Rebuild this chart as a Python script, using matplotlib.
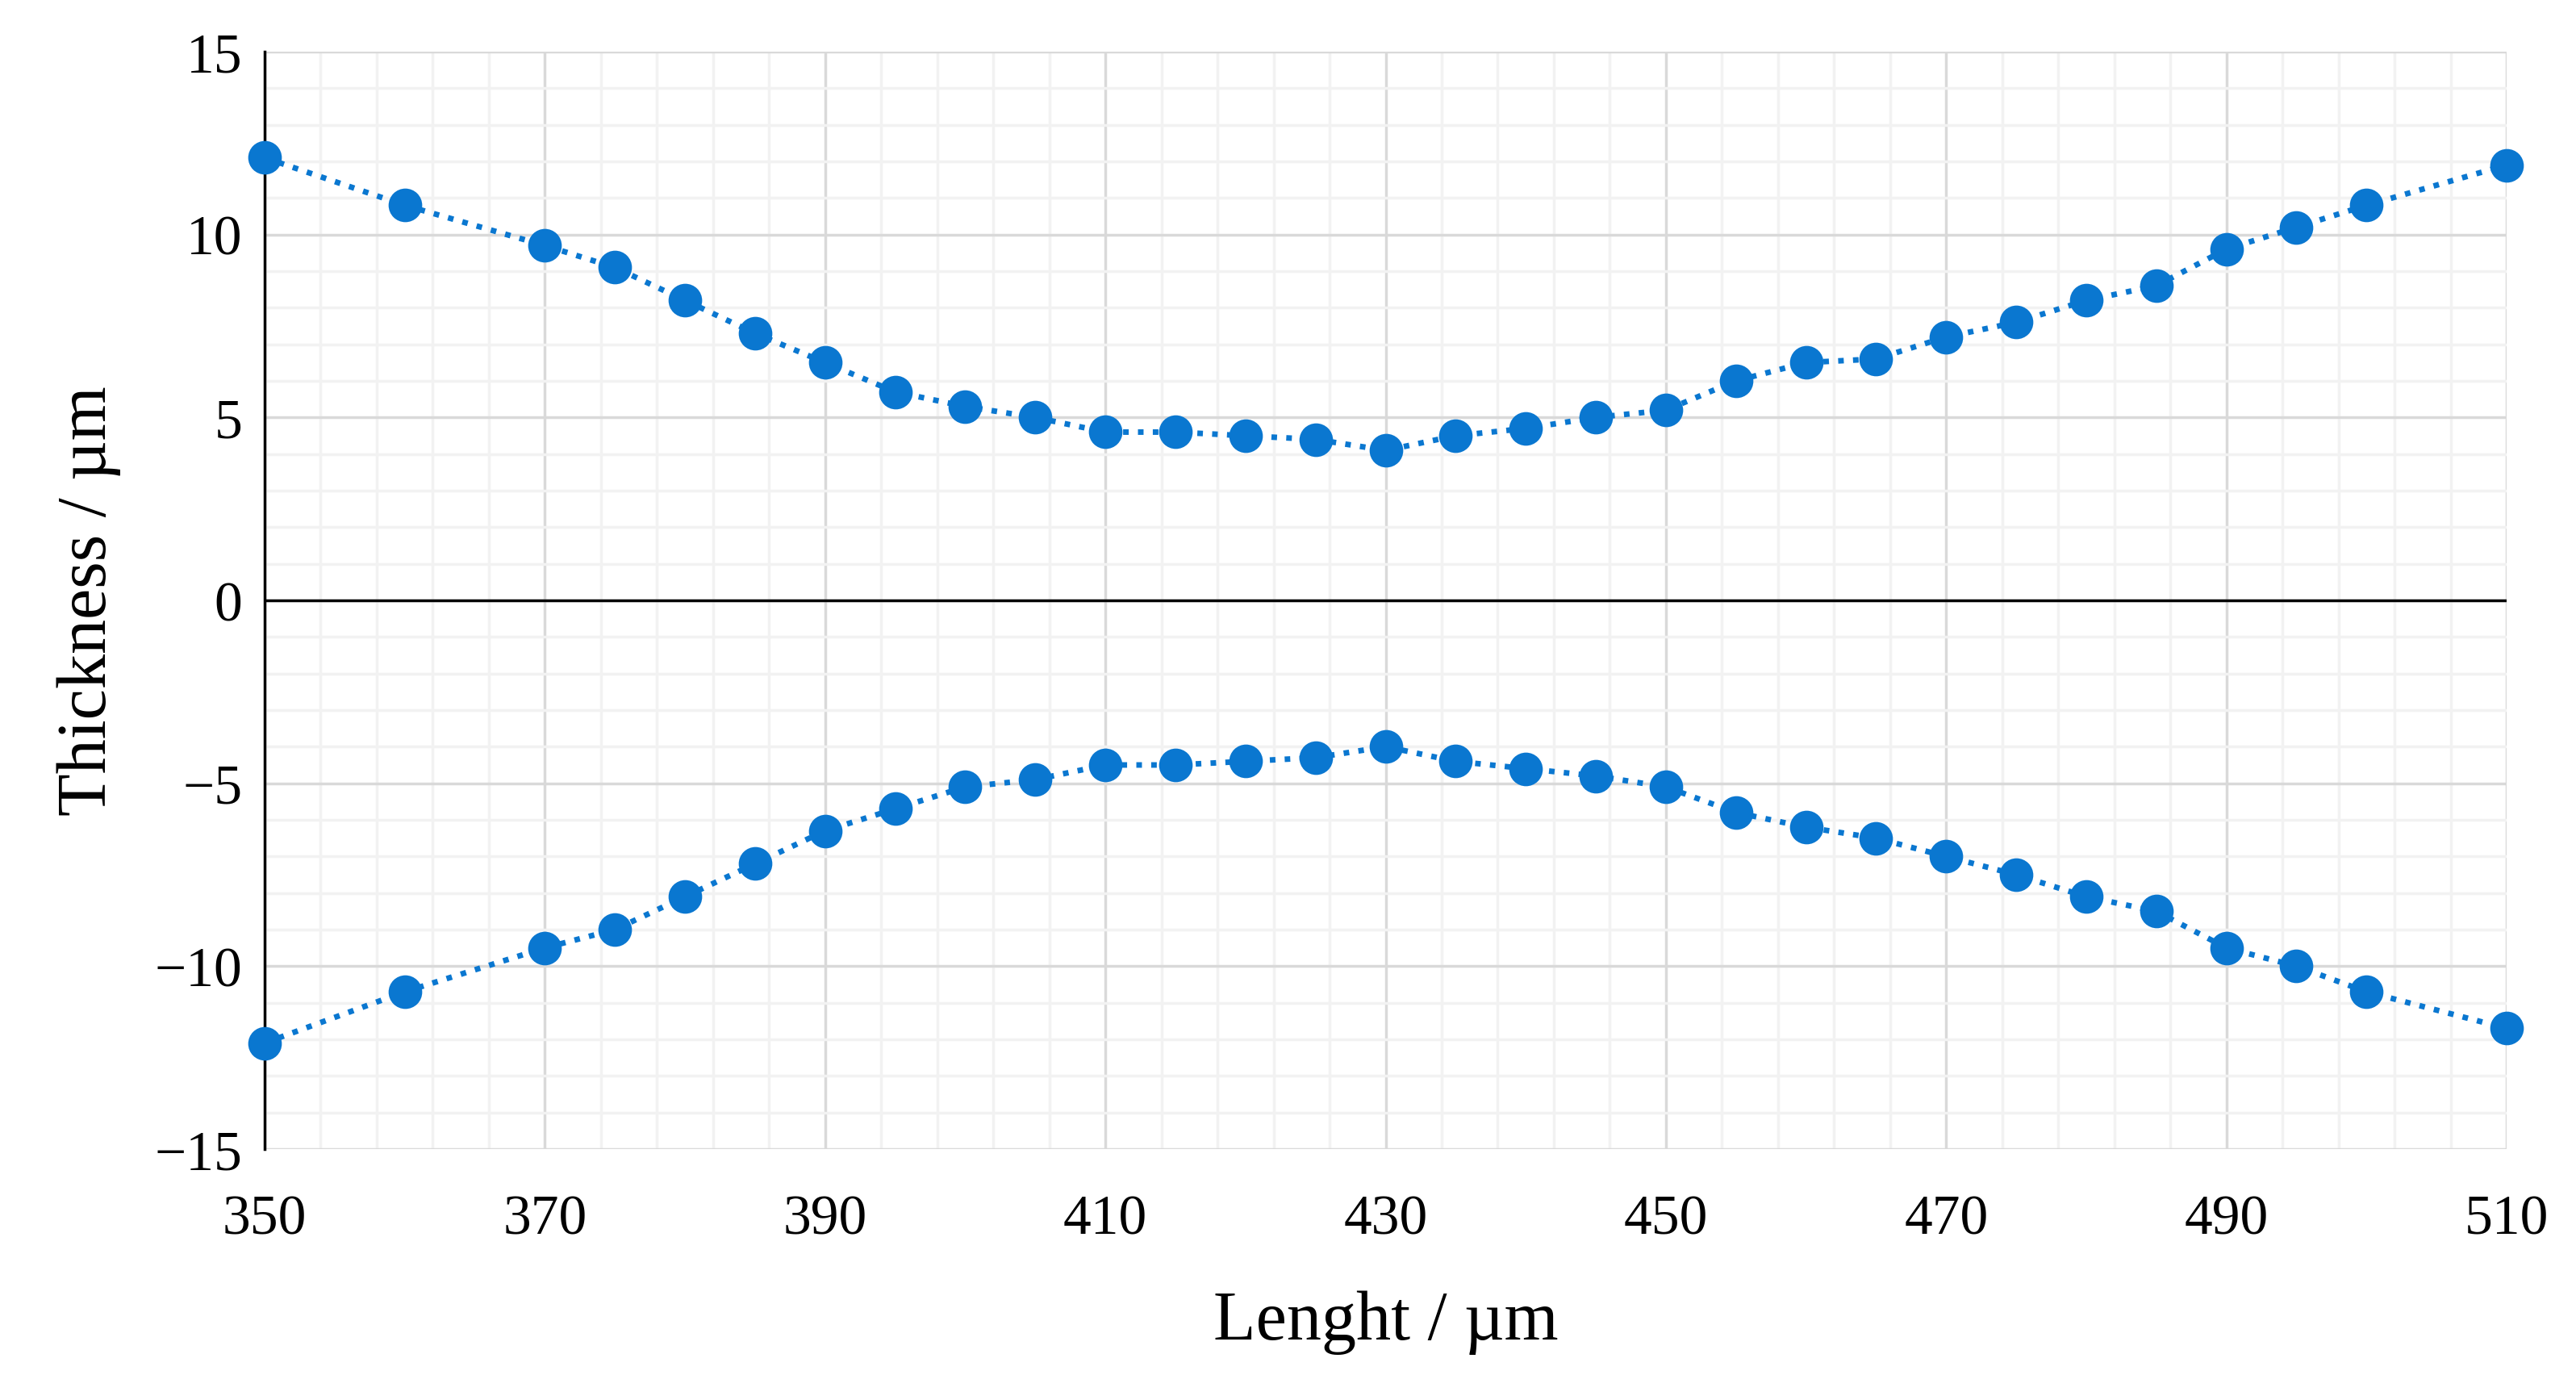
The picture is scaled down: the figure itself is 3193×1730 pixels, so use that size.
import matplotlib
matplotlib.use('Agg')
import matplotlib.pyplot as plt
import numpy as np

length = [350, 360, 370, 375, 380, 385, 390, 395, 400, 405, 410, 415, 420, 425, 430,
          435, 440, 445, 450, 455, 460, 465, 470, 475, 480, 485, 490, 495, 500, 510]
upper = [12.1, 10.8, 9.7, 9.1, 8.2, 7.3, 6.5, 5.7, 5.3, 5.0, 4.6, 4.6, 4.5, 4.4, 4.1,
         4.5, 4.7, 5.0, 5.2, 6.0, 6.5, 6.6, 7.2, 7.6, 8.2, 8.6, 9.6, 10.2, 10.8, 11.9]
lower = [-12.1, -10.7, -9.5, -9.0, -8.1, -7.2, -6.3, -5.7, -5.1, -4.9, -4.5, -4.5, -4.4, -4.3, -4.0,
         -4.4, -4.6, -4.8, -5.1, -5.8, -6.2, -6.5, -7.0, -7.5, -8.1, -8.5, -9.5, -10.0, -10.7, -11.7]
x_ticks = [350, 370, 390, 410, 430, 450, 470, 490, 510]
y_ticks = [-15, -10, -5, 0, 5, 10, 15]

plt.rcParams['font.family'] = ['Liberation Serif', 'DejaVu Serif']
fig = plt.figure(figsize=(31.93, 17.31), dpi=100)
ax = fig.add_axes([328/3193, 1 - 1425/1731, (3107-328)/3193, (1425-65)/1731])

blue = '#0a77d0'
for ys in (upper, lower):
    ax.plot(length, ys, linestyle=':', color=blue, linewidth=5,
            marker='o', markersize=30, markeredgewidth=0, zorder=3, clip_on=False)

ax.set_xlim(350, 510)
ax.set_ylim(-15, 15)
ax.set_xticks(x_ticks)
ax.set_xticks(np.arange(350, 511, 4), minor=True)
ax.set_yticks(y_ticks)
ax.set_yticks(np.arange(-15, 16, 1), minor=True)
ax.set_yticklabels([str(v).replace('-', '\u2212') for v in y_ticks])
ax.grid(which='major', color='#d9d9d9', linewidth=2.5)
ax.grid(which='minor', color='#f2f2f2', linewidth=2.5)
ax.set_axisbelow(True)
ax.axhline(0, color='black', linewidth=2.5, zorder=2)
for s in ('top', 'right', 'bottom'):
    ax.spines[s].set_visible(False)
ax.spines['left'].set_linewidth(2.5)
ax.tick_params(which='both', length=0, labelsize=50, pad=20)
ax.tick_params(axis='x', pad=40)
ax.set_xlabel('Lenght / \u00b5m', fontsize=62, labelpad=40)
ax.set_ylabel('Thickness / \u00b5m', fontsize=62, labelpad=30)

fig.savefig('out.png', dpi=100)
